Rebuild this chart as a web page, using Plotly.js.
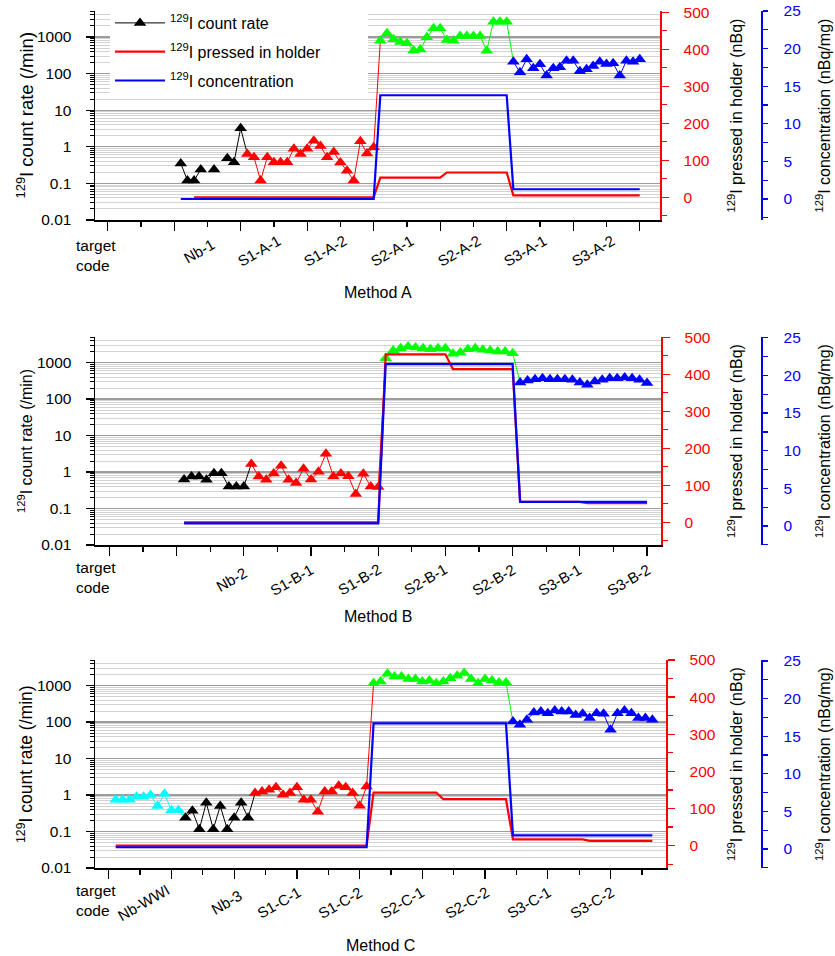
<!DOCTYPE html>
<html><head><meta charset="utf-8">
<script src="https://cdn.plot.ly/plotly-3.0.1.min.js"></script>
<style>html,body{margin:0;padding:0;background:#fff}#chart{width:835px;height:956px}</style>
</head><body><div id="chart"></div>
<script>
// ================= DATA =================
// Method A : 129I count rate (/min) per measurement, in measuring order
const methodA_labels = ['Nb-1','S1-A-1','S1-A-2','S2-A-1','S2-A-2','S3-A-1','S3-A-2'];
const rateA_Nb1 = [0.35,0.12,0.12,0.24,null,0.24,null,0.49,0.38,3.2];
const rateA_S1  = [0.64,0.52,0.12,0.52,0.38,0.38,0.38,0.89,0.64,0.89,1.47,1.05,0.52,0.72,0.37,0.22,0.12,1.41,0.66,0.97];
const rateA_S2  = [795,1260,865,730,670,430,455,980,1730,1730,830,795,1065,1065,1065,1065,420,2620,2620,2620];
const rateA_S3  = [211,108,246,140,180,88,140,149,225,225,116,131,161,211,183,191,88,225,211,246];
const pressedA_meas = [3,30,31,40,41,50,51,70];
const pressedA      = [0,0,53,53,67,67,5,5];          // nBq
const concA_meas    = [1,30,31,50,51,70];
const concA         = [0,0,13.8,13.8,1.3,1.3];       // nBq/mg

// Method B
const methodB_labels = ['Nb-2','S1-B-1','S1-B-2','S2-B-1','S2-B-2','S3-B-1','S3-B-2'];
const rateB_Nb2 = [0.62,0.75,0.75,0.61,0.92,0.92,0.40,0.40,0.40];
const rateB_S1  = [1.67,0.75,0.61,0.91,1.48,0.61,0.50,1.23,0.62,1.02,3.16,0.75,0.91,0.77,0.25,0.89,0.40,0.39];
const rateB_S2  = [1320,2130,2470,2740,2600,2470,2330,2470,2470,1730,1880,2330,2470,2230,2130,2000,2000,1810];
const rateB_S3  = [283,321,351,374,351,351,351,336,283,245,301,336,374,374,390,374,336,273];
const pressedB_meas = [1,27,28,36,37,45,46,54,55,63];
const pressedB      = [0,0,454,454,414,414,55,55,52,52];
const concB_meas    = [1,27,28,45,46,63];
const concB         = [0.35,0.35,21.5,21.5,3.2,3.2];

// Method C
const methodC_labels = ['Nb-WWI','Nb-3','S1-C-1','S1-C-2','S2-C-1','S2-C-2','S3-C-1','S3-C-2'];
const rateC_NbWWI = [0.74,0.74,0.74,0.9,0.9,1.0,0.5,1.08,0.38,0.38];
const rateC_Nb3   = [0.24,0.37,0.116,0.61,0.116,0.5,0.116,0.24,0.61,0.24];
const rateC_S1    = [1.13,1.25,1.39,1.64,1.01,1.13,1.64,0.74,0.74,0.35,1.25,1.25,1.79,1.64,1.13,0.51,1.71];
const rateC_S2    = [1160,1290,2090,1770,1770,1500,1500,1290,1370,1160,1290,1590,1850,2190,1500,1160,1500,1370,1210,1210];
const rateC_S3    = [103,84,115,182,194,175,207,194,194,157,168,128,175,168,61,175,207,175,128,128,115];
const pressedC_meas = [1,37,38,47,48,57,58,68,69,78];
const pressedC      = [0,0,143,143,125,125,17,17,13,13];
const concC_meas    = [1,37,38,57,58,78];
const concC         = [0.23,0.23,16.7,16.7,1.8,1.8];

const countTicks = [0.01,0.1,1,10,100,1000];
const countTickText = ['0.01','0.1','1','10','100','1000'];
const pressedTicks = [0,100,200,300,400,500];
const concTicks = [0,5,10,15,20,25];

// ================= STYLE / LAYOUT =================
const W = 835, H = 956;
const FONT = 'Liberation Sans, Arial, Helvetica, sans-serif';
const MS = 11;
const px = p => p / W;
const py = p => 1 - p / H;
const COL = {black:'#000000', red:'#ff0000', green:'#00ff00', blue:'#0000ff', cyan:'#00ffff'};

const panels = [
  {groups:[{v:rateA_Nb1,c:COL.black},{v:rateA_S1,c:COL.red},{v:rateA_S2,c:COL.green},{v:rateA_S3,c:COL.blue}],
   pm:pressedA_meas, p:pressedA, cm:concA_meas, c:concA, labels:methodA_labels,
   labelPos:[3.88,12.83,22.75,32.83,42.9,52.83,63.05], labelY:251, title:'Method A', titleY:292,
   xd:[95,660], yd:[11,220], xr:[-11.9,73.05], dt:10, mdt:5, lr:[-2,3.71], rr:[-61.4,503.5], br:[-2.79,25.0],
   ytf:18.5, targetTop:235},
  {groups:[{v:rateB_Nb2,c:COL.black},{v:rateB_S1,c:COL.red},{v:rateB_S2,c:COL.green},{v:rateB_S3,c:COL.blue}],
   pm:pressedB_meas, p:pressedB, cm:concB_meas, c:concB, labels:methodB_labels,
   labelPos:[7.29,15.45,24.43,33.28,42.5,51.34,60.58], labelY:579, title:'Method B', titleY:616,
   xd:[95,661], yd:[337,545], xr:[-10.93,64.87], dt:9, mdt:4.5, lr:[-2,3.70], rr:[-61.4,500.8], br:[-2.52,25.1],
   ytf:16, targetTop:557},
  {groups:[{v:rateC_NbWWI,c:COL.cyan},{v:rateC_Nb3,c:COL.black},{v:rateC_S1,c:COL.red},{v:rateC_S2,c:COL.green},{v:rateC_S3,c:COL.blue}],
   pm:pressedC_meas, p:pressedC, cm:concC_meas, c:concC, labels:methodC_labels,
   labelPos:[4.99,16.83,24.39,33.23,42.08,51.4,60.26,69.34], labelY:902, title:'Method C', titleY:945,
   xd:[95,666], yd:[660,868], xr:[-1.97,79.96], dt:9, mdt:4.5, lr:[-2,3.70], rr:[-60.3,500], br:[-2.53,25.13],
   ytf:17.5, targetTop:880}
];

const minorLog = [];
for (let d = -2; d <= 3; d++) for (let k = 2; k <= 9; k++) minorLog.push(+(k * Math.pow(10, d)).toPrecision(3));

const traces = [], layout = {
  width: W, height: H, margin:{l:0,r:0,t:0,b:0}, paper_bgcolor:'#fff', plot_bgcolor:'rgba(0,0,0,0)',
  font:{family:FONT, size:15.5, color:'#000'}, showlegend:true,
  legend:{x:px(110), y:py(6), xanchor:'left', yanchor:'top', bgcolor:'#ffffff', borderwidth:0,
          font:{family:FONT, size:16, color:'#000'}, itemwidth:50, tracegroupgap:5},
  annotations:[], shapes:[]
};

panels.forEach((P, i) => {
  const xa = i === 0 ? 'x' : 'x' + (i + 1);
  const yc = 'y' + (i === 0 ? '' : (3 * i + 1));
  const yr = 'y' + (3 * i + 2);
  const yb = 'y' + (3 * i + 3);
  const xKey = i === 0 ? 'xaxis' : 'xaxis' + (i + 1);
  const ycKey = 'yaxis' + (i === 0 ? '' : (3 * i + 1));
  const yrKey = 'yaxis' + (3 * i + 2);
  const ybKey = 'yaxis' + (3 * i + 3);

  // measurement number of each point, groups follow each other
  let start = 1;
  const gr = P.groups.map(g => { const o = {x: g.v.map((_, k) => start + k), y: g.v, c: g.c}; start += g.v.length; return o; });
  // connectors from the last point of a group to the first point of the next one
  gr.forEach((g, gi) => {
    const nx = gr[gi + 1]; if (!nx) return;
    traces.push({type:'scatter', mode:'lines', x:[g.x[g.x.length - 1], nx.x[0]], y:[g.y[g.y.length - 1], nx.y[0]],
      xaxis:xa, yaxis:yc, line:{color:g.c, width:1}, showlegend:false, hoverinfo:'skip'});
  });
  gr.forEach((g, gi) => {
    const leg = (i === 0 && gi === 0);
    traces.push({type:'scatter', mode:'lines+markers', x:g.x, y:g.y, xaxis:xa, yaxis:yc,
      name:'<sup>129</sup>I count rate', legendgroup:'g1', showlegend:leg, connectgaps:false,
      line:{color:g.c, width:1}, marker:{symbol:'triangle-up', size:MS, color:g.c, line:{width:0}},
      hoverinfo:'x+y'});
  });
  traces.push({type:'scatter', mode:'lines', x:P.pm, y:P.p, xaxis:xa, yaxis:yr, name:'<sup>129</sup>I pressed in holder',
    legendgroup:'g2', showlegend:i === 0, line:{color:COL.red, width:2.2}});
  traces.push({type:'scatter', mode:'lines', x:P.cm, y:P.c, xaxis:xa, yaxis:yb, name:'<sup>129</sup>I concentration',
    legendgroup:'g3', showlegend:i === 0, line:{color:COL.blue, width:2.2}});

  layout[xKey] = {domain:[px(P.xd[0]), px(P.xd[1])], range:P.xr, anchor:yc, showline:true, linecolor:'#000', linewidth:1.5,
    ticks:'outside', ticklen:9, tickwidth:1.3, tickcolor:'#000', tickmode:'linear', tick0:0, dtick:P.dt,
    showticklabels:false, showgrid:false, zeroline:false, fixedrange:true,
    minor:{tickmode:'linear', tick0:0, dtick:P.mdt, ticks:'outside', ticklen:5, tickwidth:1.3, tickcolor:'#000', showgrid:false}};
  layout[ycKey] = {domain:[py(P.yd[1]), py(P.yd[0])], type:'log', range:P.lr, anchor:xa, showline:true, linecolor:'#000', linewidth:1.5,
    ticks:'outside', ticklen:8, tickwidth:1.3, tickcolor:'#000', tickmode:'array', tickvals:countTicks, ticktext:countTickText,
    tickfont:{size:15.5, color:'#000'}, ticklabelstandoff:11,
    showgrid:true, gridcolor:'#9c9c9c', gridwidth:1.2, zeroline:false, fixedrange:true,
    minor:{tickmode:'array', tickvals:minorLog, ticks:'outside', ticklen:4, tickwidth:1, tickcolor:'#000',
           showgrid:true, gridcolor:'#d2d2d2', gridwidth:1}};
  layout[yrKey] = {overlaying:yc, side:'right', anchor:xa, range:P.rr, showline:true, linecolor:COL.red, linewidth:1.5,
    ticks:'outside', ticklen:7, tickwidth:1.3, tickcolor:COL.red, tickmode:'array', tickvals:pressedTicks,
    tickfont:{size:15.5, color:COL.red}, ticklabelstandoff:12, showgrid:false, zeroline:false, fixedrange:true,
    minor:{tickmode:'linear', tick0:0, dtick:50, ticks:'outside', ticklen:5, tickwidth:1.3, tickcolor:COL.red, showgrid:false}};
  layout[ybKey] = {overlaying:yc, side:'right', anchor:'free', position:px(761), range:P.br, showline:true, linecolor:COL.blue, linewidth:1.5,
    ticks:'outside', ticklen:5, tickwidth:1.3, tickcolor:COL.blue, tickmode:'array', tickvals:concTicks,
    tickfont:{size:15.5, color:COL.blue}, ticklabelstandoff:13, showgrid:false, zeroline:false, fixedrange:true,
    minor:{tickmode:'linear', tick0:0, dtick:2.5, ticks:'outside', ticklen:5, tickwidth:1.3, tickcolor:COL.blue, showgrid:false}};

  // target-code labels (slanted, centred on their place below the axis)
  P.labels.forEach((t, k) => layout.annotations.push({text:t, x:P.labelPos[k], xref:xa, y:py(P.labelY), yref:'paper',
    xanchor:'center', yanchor:'middle', textangle:-30, showarrow:false, font:{size:15, color:'#000'}}));
  layout.annotations.push({text:'target<br>code', x:px(74), xref:'paper', y:py(P.targetTop), yref:'paper', xanchor:'left', yanchor:'top',
    align:'left', showarrow:false, font:{size:15.5}});
  layout.annotations.push({text:P.title, x:px((P.xd[0] + P.xd[1]) / 2), xref:'paper', y:py(P.titleY), yref:'paper', xanchor:'center', yanchor:'middle',
    showarrow:false, font:{size:16}});
  const ymid = py((P.yd[0] + P.yd[1]) / 2);
  layout.annotations.push({text:'<sup>129</sup>I count rate (/min)', x:px(25), xref:'paper', y:ymid, yref:'paper', textangle:-90,
    xanchor:'center', yanchor:'middle', showarrow:false, font:{size:P.ytf}});
  layout.annotations.push({text:'<sup>129</sup>I pressed in holder (nBq)', x:px(735), xref:'paper', y:ymid, yref:'paper', textangle:-90,
    xanchor:'center', yanchor:'middle', showarrow:false, font:{size:16}});
  layout.annotations.push({text:'<sup>129</sup>I concentration (nBq/mg)', x:px(823), xref:'paper', y:ymid, yref:'paper', textangle:-90,
    xanchor:'center', yanchor:'middle', showarrow:false, font:{size:16}});
});

// white box behind the legend, as in the original
layout.shapes.push({type:'rect', xref:'paper', yref:'paper', x0:px(110), x1:px(368), y0:py(97), y1:py(11),
  fillcolor:'#ffffff', line:{width:0}, layer:'above'});

Plotly.newPlot('chart', traces, layout, {staticPlot:true, displayModeBar:false});
</script></body></html>
